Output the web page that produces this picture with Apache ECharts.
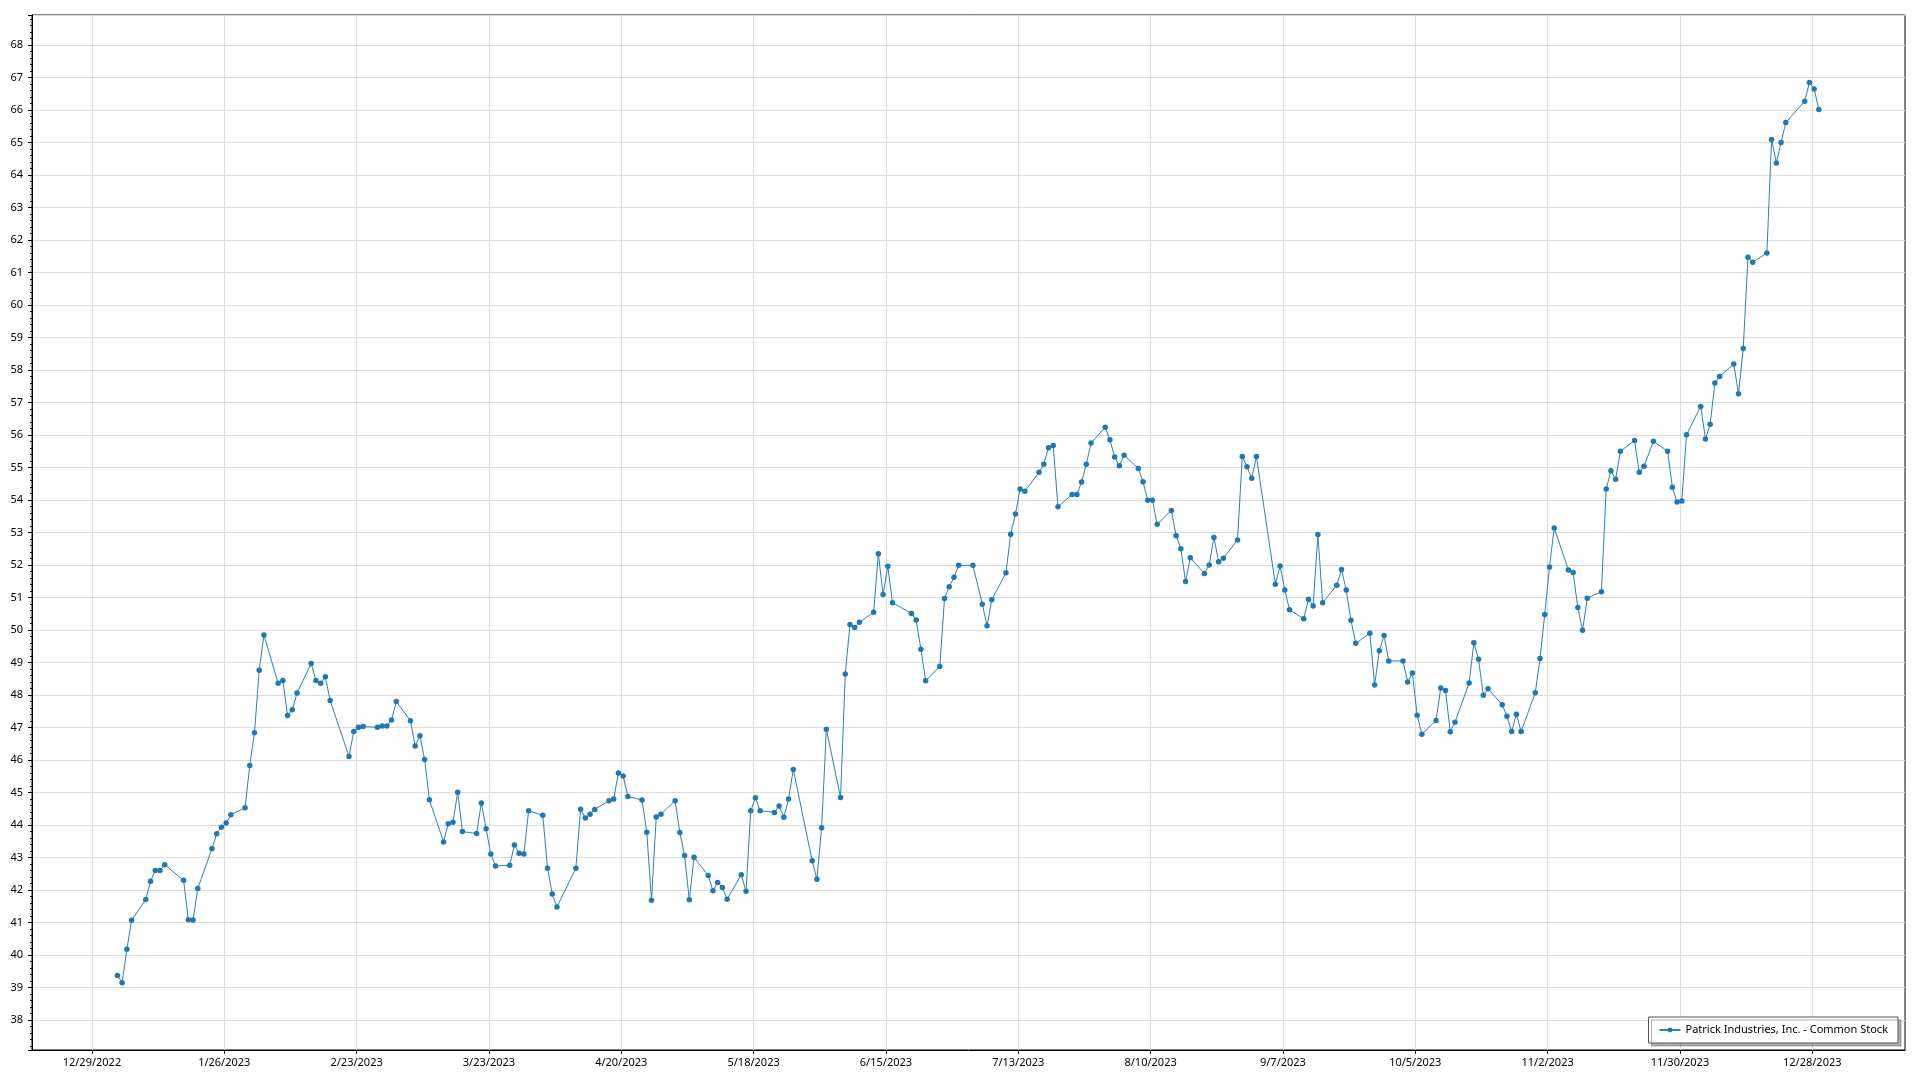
<!DOCTYPE html>
<html>
<head>
<meta charset="utf-8">
<script src="https://cdn.jsdelivr.net/npm/echarts@6/dist/echarts.min.js"></script>
<style>
html, body { margin: 0; padding: 0; background: #ffffff; }
#chart { width: 1920px; height: 1080px; }
</style>
</head>
<body>
<div id="chart"></div>
<script>
const seriesName = 'Patrick Industries, Inc. - Common Stock';
const sessionTime = [9, 30];

const tradeDates = [
  '2023-01-03','2023-01-04','2023-01-05','2023-01-06','2023-01-09','2023-01-10','2023-01-11','2023-01-12','2023-01-13','2023-01-17','2023-01-18','2023-01-19','2023-01-20','2023-01-23','2023-01-24','2023-01-25','2023-01-26','2023-01-27','2023-01-30','2023-01-31',
  '2023-02-01','2023-02-02','2023-02-03','2023-02-06','2023-02-07','2023-02-08','2023-02-09','2023-02-10','2023-02-13','2023-02-14','2023-02-15','2023-02-16','2023-02-17','2023-02-21','2023-02-22','2023-02-23','2023-02-24','2023-02-27','2023-02-28',
  '2023-03-01','2023-03-02','2023-03-03','2023-03-06','2023-03-07','2023-03-08','2023-03-09','2023-03-10','2023-03-13','2023-03-14','2023-03-15','2023-03-16','2023-03-17','2023-03-20','2023-03-21','2023-03-22','2023-03-23','2023-03-24','2023-03-27','2023-03-28','2023-03-29','2023-03-30','2023-03-31',
  '2023-04-03','2023-04-04','2023-04-05','2023-04-06','2023-04-10','2023-04-11','2023-04-12','2023-04-13','2023-04-14','2023-04-17','2023-04-18','2023-04-19','2023-04-20','2023-04-21','2023-04-24','2023-04-25','2023-04-26','2023-04-27','2023-04-28',
  '2023-05-01','2023-05-02','2023-05-03','2023-05-04','2023-05-05','2023-05-08','2023-05-09','2023-05-10','2023-05-11','2023-05-12','2023-05-15','2023-05-16','2023-05-17','2023-05-18','2023-05-19','2023-05-22','2023-05-23','2023-05-24','2023-05-25','2023-05-26','2023-05-30','2023-05-31',
  '2023-06-01','2023-06-02','2023-06-05','2023-06-06','2023-06-07','2023-06-08','2023-06-09','2023-06-12','2023-06-13','2023-06-14','2023-06-15','2023-06-16','2023-06-20','2023-06-21','2023-06-22','2023-06-23','2023-06-26','2023-06-27','2023-06-28','2023-06-29','2023-06-30',
  '2023-07-03','2023-07-05','2023-07-06','2023-07-07','2023-07-10','2023-07-11','2023-07-12','2023-07-13','2023-07-14','2023-07-17','2023-07-18','2023-07-19','2023-07-20','2023-07-21','2023-07-24','2023-07-25','2023-07-26','2023-07-27','2023-07-28','2023-07-31',
  '2023-08-01','2023-08-02','2023-08-03','2023-08-04','2023-08-07','2023-08-08','2023-08-09','2023-08-10','2023-08-11','2023-08-14','2023-08-15','2023-08-16','2023-08-17','2023-08-18','2023-08-21','2023-08-22','2023-08-23','2023-08-24','2023-08-25','2023-08-28','2023-08-29','2023-08-30','2023-08-31',
  '2023-09-01','2023-09-05','2023-09-06','2023-09-07','2023-09-08','2023-09-11','2023-09-12','2023-09-13','2023-09-14','2023-09-15','2023-09-18','2023-09-19','2023-09-20','2023-09-21','2023-09-22','2023-09-25','2023-09-26','2023-09-27','2023-09-28','2023-09-29',
  '2023-10-02','2023-10-03','2023-10-04','2023-10-05','2023-10-06','2023-10-09','2023-10-10','2023-10-11','2023-10-12','2023-10-13','2023-10-16','2023-10-17','2023-10-18','2023-10-19','2023-10-20','2023-10-23','2023-10-24','2023-10-25','2023-10-26','2023-10-27','2023-10-30','2023-10-31',
  '2023-11-01','2023-11-02','2023-11-03','2023-11-06','2023-11-07','2023-11-08','2023-11-09','2023-11-10','2023-11-13','2023-11-14','2023-11-15','2023-11-16','2023-11-17','2023-11-20','2023-11-21','2023-11-22','2023-11-24','2023-11-27','2023-11-28','2023-11-29','2023-11-30',
  '2023-12-01','2023-12-04','2023-12-05','2023-12-06','2023-12-07','2023-12-08','2023-12-11','2023-12-12','2023-12-13','2023-12-14','2023-12-15','2023-12-18','2023-12-19','2023-12-20','2023-12-21','2023-12-22','2023-12-26','2023-12-27','2023-12-28','2023-12-29'
];

const closePrices = [
  39.37, 39.15, 40.18, 41.07, 41.71, 42.27, 42.60, 42.60, 42.78, 42.30, 41.09, 41.08, 42.05, 43.27, 43.73, 43.93, 44.06, 44.32, 44.53, 45.83,
  46.84, 48.76, 49.85, 48.36, 48.45, 47.37, 47.55, 48.06, 48.97, 48.45, 48.36, 48.56, 47.83, 46.11, 46.88, 47.01, 47.03, 47.01, 47.05,
  47.05, 47.23, 47.80, 47.21, 46.43, 46.75, 46.02, 44.78, 43.48, 44.04, 44.09, 45.01, 43.80, 43.74, 44.68, 43.89, 43.11, 42.74, 42.76, 43.39, 43.13, 43.11, 44.44,
  44.30, 42.67, 41.88, 41.48, 42.67, 44.49, 44.22, 44.33, 44.48, 44.75, 44.80, 45.60, 45.51, 44.88, 44.77, 43.78, 41.69, 44.25, 44.33,
  44.75, 43.77, 43.06, 41.70, 43.01, 42.45, 41.98, 42.23, 42.08, 41.72, 42.47, 41.96, 44.44, 44.84, 44.44, 44.39, 44.59, 44.24, 44.80, 45.71, 42.90, 42.33,
  43.92, 46.95, 44.85, 48.65, 50.17, 50.08, 50.24, 50.55, 52.35, 51.09, 51.96, 50.84, 50.51, 50.31, 49.41, 48.44, 48.88, 50.97, 51.33, 51.62, 51.99,
  51.99, 50.79, 50.13, 50.93, 51.76, 52.95, 53.57, 54.34, 54.27, 54.85, 55.10, 55.61, 55.68, 53.79, 54.17, 54.17, 54.55, 55.10, 55.75, 56.24,
  55.85, 55.32, 55.05, 55.38, 54.97, 54.56, 53.99, 53.99, 53.25, 53.68, 52.90, 52.50, 51.49, 52.22, 51.74, 52.00, 52.85, 52.10, 52.21, 52.77, 55.34, 55.02, 54.67,
  55.34, 51.41, 51.97, 51.23, 50.62, 50.35, 50.95, 50.74, 52.94, 50.84, 51.38, 51.86, 51.23, 50.30, 49.59, 49.90, 48.31, 49.36, 49.83, 49.05,
  49.05, 48.40, 48.68, 47.38, 46.79, 47.22, 48.22, 48.14, 46.87, 47.16, 48.37, 49.61, 49.10, 47.99, 48.19, 47.70, 47.35, 46.88, 47.41, 46.88, 48.07, 49.12,
  50.48, 51.94, 53.14, 51.85, 51.77, 50.69, 49.99, 50.98, 51.18, 54.34, 54.90, 54.64, 55.50, 55.83, 54.85, 55.04, 55.81, 55.50, 54.39, 53.94, 53.97,
  56.01, 56.88, 55.88, 56.33, 57.60, 57.80, 58.18, 57.27, 58.66, 61.47, 61.31, 61.60, 65.09, 64.37, 65.00, 65.61, 66.27, 66.84, 66.64, 66.01
];

const xTickLabels = ['12/29/2022','1/26/2023','2/23/2023','3/23/2023','4/20/2023','5/18/2023','6/15/2023','7/13/2023','8/10/2023','9/7/2023','10/5/2023','11/2/2023','11/30/2023','12/28/2023'];

const DAY = 86400000;
function parseIso(s) {
  const p = s.split('-').map(Number);
  return Date.UTC(p[0], p[1] - 1, p[2], sessionTime[0], sessionTime[1]);
}
function parseMdy(s) {
  const p = s.split('/').map(Number);
  return Date.UTC(p[2], p[0] - 1, p[1]);
}
const xTickValues = xTickLabels.map(parseMdy);
const xLabelMap = {};
xTickValues.forEach((v, i) => { xLabelMap[v] = xTickLabels[i]; });

const seriesData = tradeDates.map((d, i) => [parseIso(d), closePrices[i]]);

const xOrigin = xTickValues[0];
const xMin = xOrigin - 12.68 * DAY;
const xMax = xOrigin + 383.62 * DAY;

const FONT = 'Noto Sans';
const chart = echarts.init(document.getElementById('chart'), null, { renderer: 'canvas' });
chart.setOption({
  animation: false,
  backgroundColor: '#ffffff',
  textStyle: { fontFamily: FONT },
  grid: {
    left: 32, right: 15, top: 15, bottom: 30,
    show: true, borderColor: '#000000', borderWidth: 1, backgroundColor: 'transparent'
  },
  legend: {
    show: true,
    right: 22, bottom: 37,
    orient: 'horizontal',
    padding: [6, 10, 6, 10],
    borderColor: '#555555', borderWidth: 1,
    backgroundColor: '#ffffff',
    shadowColor: 'rgba(0,0,0,0.3)', shadowBlur: 0, shadowOffsetX: 3, shadowOffsetY: 3,
    itemWidth: 21, itemHeight: 6, itemGap: 10,
    textStyle: { fontFamily: FONT, fontSize: 11, color: '#000000', lineHeight: 14 },
    data: [seriesName]
  },
  xAxis: {
    type: 'value',
    min: xMin, max: xMax,
    axisLine: { show: true, lineStyle: { color: '#000000', width: 1 } },
    axisTick: { show: true, inside: false, length: 4, customValues: xTickValues, lineStyle: { color: '#000000' } },
    axisLabel: {
      show: true, customValues: xTickValues, margin: 7,
      fontFamily: FONT, fontSize: 11, color: '#000000',
      formatter: v => xLabelMap[v] || ''
    },
    splitLine: { show: true, lineStyle: { color: '#dcdcdc', width: 1 } },
    minorTick: { show: false }
  },
  yAxis: {
    type: 'value',
    min: 37.08, max: 68.92,
    splitNumber: 31,
    axisLine: { show: true, lineStyle: { color: '#000000', width: 1 } },
    axisTick: { show: true, inside: false, length: 4, lineStyle: { color: '#000000' } },
    minorTick: { show: true, splitNumber: 5, length: 2, lineStyle: { color: '#000000' } },
    axisLabel: {
      show: true, margin: 9, showMinLabel: false, showMaxLabel: false,
      fontFamily: FONT, fontSize: 11, color: '#000000'
    },
    splitLine: { show: true, lineStyle: { color: '#dcdcdc', width: 1 } }
  },
  series: [{
    name: seriesName,
    type: 'line',
    data: seriesData,
    symbol: 'circle',
    symbolSize: 5.5,
    showSymbol: true,
    showAllSymbol: true,
    lineStyle: { color: '#2b7fbf', width: 1 },
    itemStyle: { color: '#1f77b4', borderWidth: 0 },
    emphasis: { disabled: true }
  }]
});
</script>
</body>
</html>
